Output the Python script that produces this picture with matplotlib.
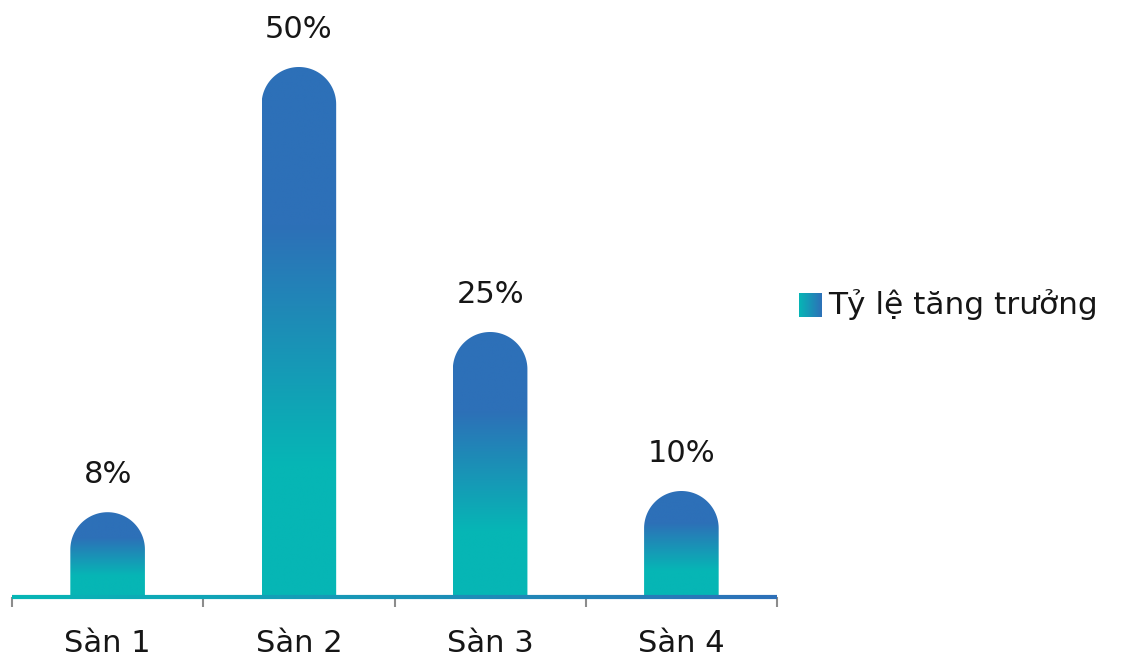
#!/usr/bin/env python3
"""Growth rate per floor: rounded gradient bars with value labels."""

import matplotlib
matplotlib.use("Agg")
import matplotlib.pyplot as plt
import numpy as np
from matplotlib.collections import LineCollection
from matplotlib.colors import to_rgb
from matplotlib.patches import PathPatch
from matplotlib.path import Path

categories = ["Sàn 1", "Sàn 2", "Sàn 3", "Sàn 4"]
growth_pct = [8, 50, 25, 10]
value_labels = ["8%", "50%", "25%", "10%"]
series_name = "Tỷ lệ tăng trưởng"

TEAL = np.array(to_rgb("#06b6b5"))
BLUE = np.array(to_rgb("#2d70b8"))
TEXT = "#161616"
FONT = "DejaVu Sans"

W_PX, H_PX, DPI = 1126, 659, 100
BAR_W = 0.39
YMAX = 55


def blend(t):
    t = np.clip(t, 0, 1)[..., None]
    return TEAL * (1 - t) + BLUE * t


def bar_gradient(n=256):
    # teal at the foot, blue near the rounded cap
    t = np.linspace(0, 1, n)
    t = (t - 0.25) / (0.70 - 0.25)
    return blend(t)[:, None, :]


def rounded_bar_path(cx, h, w, ry):
    rx = w / 2
    theta = np.linspace(np.pi, 0, 80)
    arc_x = cx + rx * np.cos(theta)
    arc_y = (h - ry) + ry * np.sin(theta)
    xs = np.concatenate([[cx - rx], arc_x, [cx + rx, cx - rx]])
    ys = np.concatenate([[0], arc_y, [0, 0]])
    verts = np.column_stack([xs, ys])
    codes = [Path.MOVETO] + [Path.LINETO] * (len(verts) - 2) + [Path.CLOSEPOLY]
    return Path(verts, codes)


fig = plt.figure(figsize=(W_PX / DPI, H_PX / DPI), dpi=DPI)
ax_l, ax_b = 12 / W_PX, 62 / H_PX
ax_w, ax_h = 765 / W_PX, 583 / H_PX
ax = fig.add_axes([ax_l, ax_b, ax_w, ax_h])
x = np.arange(len(categories))
ax.set_xlim(-0.5, len(categories) - 0.5)
ax.set_ylim(0, YMAX)

# pixel scale so the cap is a true semicircle on screen
sx = ax_w * W_PX / (len(categories))
sy = ax_h * H_PX / YMAX
ry = (BAR_W / 2) * sx / sy

grad = bar_gradient()
for xi, v, lab in zip(x, growth_pct, value_labels):
    path = rounded_bar_path(xi, v, BAR_W, ry)
    patch = PathPatch(path, facecolor="none", edgecolor="none")
    ax.add_patch(patch)
    im = ax.imshow(grad, extent=(xi - BAR_W / 2, xi + BAR_W / 2, 0, v),
                   origin="lower", aspect="auto", interpolation="bilinear",
                   zorder=2)
    im.set_clip_path(patch)
    ax.text(xi, v + 2.2, lab, ha="center", va="bottom", fontsize=22,
            color=TEXT, family=FONT)

# baseline with left-to-right gradient
xs = np.linspace(-0.5, len(categories) - 0.5, 200)
segs = [[(a, 0), (b, 0)] for a, b in zip(xs[:-1], xs[1:])]
cols = blend(np.linspace(0, 1, len(segs)))
ax.add_collection(LineCollection(segs, colors=cols, linewidths=3,
                                 zorder=3, clip_on=False, capstyle="butt"))

for sp in ax.spines.values():
    sp.set_visible(False)
ax.set_yticks([])
ax.set_xticks(np.arange(-0.5, len(categories), 1.0))
ax.set_xticklabels([])
ax.tick_params(axis="x", length=7, width=1.5, color="#8c8c8c", pad=0)
for xi, c in zip(x, categories):
    ax.text(xi, -3.0, c, ha="center", va="top", fontsize=22, color=TEXT,
            family=FONT)

# legend: gradient swatch plus label
sw = fig.add_axes([799 / W_PX, (H_PX - 317) / H_PX, 22 / W_PX, 24 / H_PX])
sw.imshow(blend(np.linspace(0, 1, 64))[None, :, :], aspect="auto",
          interpolation="bilinear")
sw.axis("off")
fig.text(828 / W_PX, (H_PX - 305) / H_PX, series_name, ha="left",
         va="center", fontsize=22.5, color=TEXT, family=FONT)

fig.savefig("out.png", dpi=DPI)
